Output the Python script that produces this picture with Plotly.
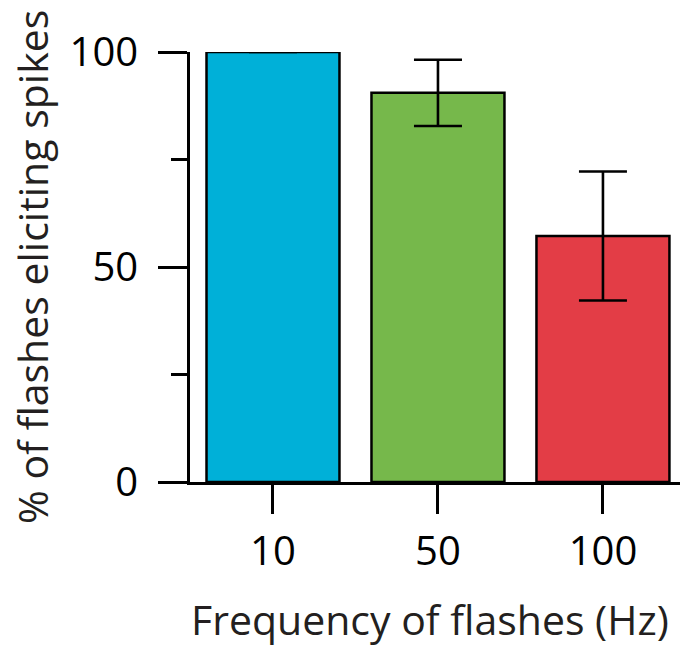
import plotly.graph_objects as go

categories = ["10", "50", "100"]
values = [100, 90.5, 57.2]
errors = [0, 7.7, 15.0]
colors = ["#00B0D8", "#76B84B", "#E33D46"]
x_title = "Frequency of flashes (Hz)"
y_title = "% of flashes eliciting spikes"

FONT = "Open Sans"

fig = go.Figure()
fig.add_trace(go.Bar(
    x=categories, y=values,
    width=0.806,
    marker=dict(color=colors, line=dict(color="black", width=2.5)),
    error_y=dict(type="data", array=errors, visible=True, color="black",
                 thickness=2.6, width=24),
))

fig.update_layout(
    width=680, height=646,
    margin=dict(l=190, r=0, t=52, b=164),
    plot_bgcolor="white", paper_bgcolor="white",
    showlegend=False,
    font=dict(family=FONT, size=40, color="black"),
    xaxis=dict(
        type="category", range=[-0.503, 2.467], automargin=False,
        showline=True, linecolor="black", linewidth=2.6,
        ticks="outside", ticklen=29, tickwidth=2.5, tickcolor="black",
        tickfont=dict(family=FONT, size=40, color="black"),
        ticklabelstandoff=3,
        showgrid=False, zeroline=False,
    ),
    yaxis=dict(
        range=[0, 100], tickvals=[0, 50, 100], automargin=False,
        showline=True, linecolor="black", linewidth=2.6,
        ticks="outside", ticklen=29, tickwidth=2.5, tickcolor="black",
        tickfont=dict(family=FONT, size=40, color="black"),
        ticklabelstandoff=12,
        minor=dict(tickvals=[25, 75], ticks="outside", ticklen=16,
                   tickwidth=2.5, tickcolor="black"),
        showgrid=False, zeroline=False,
    ),
    annotations=[
        dict(text=x_title, xref="paper", yref="paper", x=0.49, y=-0.3186,
             xanchor="center", yanchor="middle", showarrow=False,
             font=dict(family=FONT, size=41, color="#231F20")),
        dict(text=y_title, xref="paper", yref="paper", x=-0.3224, y=0.5,
             xanchor="center", yanchor="middle", textangle=-90, showarrow=False,
             font=dict(family=FONT, size=41, color="#231F20")),
    ],
)

fig.write_html("out.html",
               config={"displayModeBar": False},
               post_script="document.body.style.margin='0px';")
